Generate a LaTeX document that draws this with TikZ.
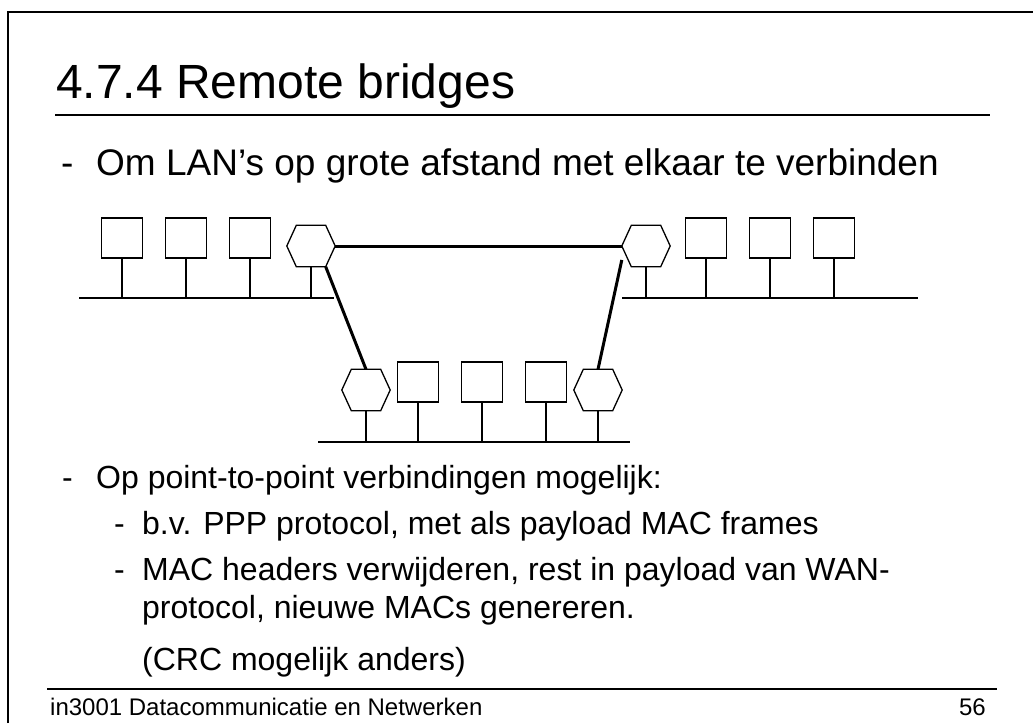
\documentclass[tikz,border=0pt]{standalone}
\usepackage{fontspec}
\setmainfont{Liberation Sans}
\usetikzlibrary{positioning}

\begin{document}
\begin{tikzpicture}[x=1pt, y=-1pt,
    station/.style={rectangle, draw, line width=1.3pt, minimum width=41pt, minimum height=40pt, inner sep=0pt},
    bridge/.style={rectangle, minimum width=48pt, minimum height=41pt, inner sep=0pt},
    lan/.style={line width=1.3pt},
    link/.style={line width=3pt},
    heading/.style={anchor=base west, inner sep=0pt, font=\fontsize{48}{58}\selectfont},
    item/.style={anchor=base west, inner sep=0pt, font=\fontsize{37}{44}\selectfont},
    subitem/.style={anchor=base west, inner sep=0pt, font=\fontsize{32}{38}\selectfont},
    foot/.style={anchor=base west, inner sep=0pt, font=\fontsize{24}{29}\selectfont},
]
    \useasboundingbox (0,0) rectangle (1033,723);

    % Slide frame and rules
    \draw[line width=2pt] (8,723) -- (8,12) -- (1033,12);
    \draw[line width=2.5pt] (55,115) -- (990,115);
    \draw[line width=2.5pt] (47,689) -- (997,689);

    % Title and first bullet
    \node[heading] (title) at (56,98) {4.7.4 Remote bridges};
    \node[item] (dasha) at (61,175) {-};
    \node[item] (intro) at (96,175) {Om LAN’s op grote afstand met elkaar te verbinden};

    % Left LAN
    \coordinate (busLa) at (79,298);
    \coordinate (busLb) at (334,298);
    \draw[lan] (busLa) -- (busLb);
    \foreach \n/\x in {la/122, lb/186, lc/250} {
        \node[station] (\n) at (\x,238) {};
        \draw[lan] (\n.south) -- (\n.south |- busLa);
    }
    \node[bridge] (brL) at (311,246) {};
    \draw[lan] (brL.south) -- (brL.south |- busLa);

    % Right LAN
    \coordinate (busRa) at (622,298);
    \coordinate (busRb) at (918,298);
    \draw[lan] (busRa) -- (busRb);
    \foreach \n/\x in {ra/706, rb/770, rc/834} {
        \node[station] (\n) at (\x,238) {};
        \draw[lan] (\n.south) -- (\n.south |- busRa);
    }
    \node[bridge] (brR) at (646,246) {};
    \draw[lan] (brR.south) -- (brR.south |- busRa);

    % Bottom LAN
    \coordinate (busBa) at (318,442);
    \coordinate (busBb) at (630,442);
    \draw[lan] (busBa) -- (busBb);
    \foreach \n/\x in {ba/418, bb/482, bc/546} {
        \node[station] (\n) at (\x,382) {};
        \draw[lan] (\n.south) -- (\n.south |- busBa);
    }
    \node[bridge] (brBL) at (366,390) {};
    \node[bridge] (brBR) at (598,390) {};
    \draw[lan] (brBL.south) -- (brBL.south |- busBa);
    \draw[lan] (brBR.south) -- (brBR.south |- busBa);

    % Hexagon outline of each bridge
    \foreach \b in {brL, brR, brBL, brBR} {
        \draw[lan, line join=miter, fill=white] (\b.west) -- ([xshift=9.5pt]\b.north west) -- ([xshift=-9.5pt]\b.north east)
            -- (\b.east) -- ([xshift=-9.5pt]\b.south east) -- ([xshift=9.5pt]\b.south west) -- cycle;
    }

    % Point-to-point links
    \draw[link] (brL.east) -- (brR.west);
    \draw[link] ([xshift=-9.5pt]brL.south east) -- (brBL.north);
    \draw[link] (brR.210) -- (brBR.north);

    % Second bullet and sub-items
    \node[subitem] (dashb) at (62,488) {-};
    \node[subitem] (ptp) at (96,488) {Op point-to-point verbindingen mogelijk:};
    \node[subitem] (dashc) at (114,534) {-};
    \node[subitem] (ppp) at (142,534) {b.v. PPP protocol, met als payload MAC frames};
    \node[subitem] (dashd) at (114,580) {-};
    \node[subitem] (maca) at (142,580) {MAC headers verwijderen, rest in payload van WAN-};
    \node[subitem] (macb) at (142,618) {protocol, nieuwe MACs genereren.};
    \node[subitem] (crc) at (142,670) {(CRC mogelijk anders)};

    % Footer
    \node[foot] (course) at (50,715) {in3001 Datacommunicatie en Netwerken};
    \node[foot, anchor=base east] (page) at (986,715) {56};
\end{tikzpicture}
\end{document}
